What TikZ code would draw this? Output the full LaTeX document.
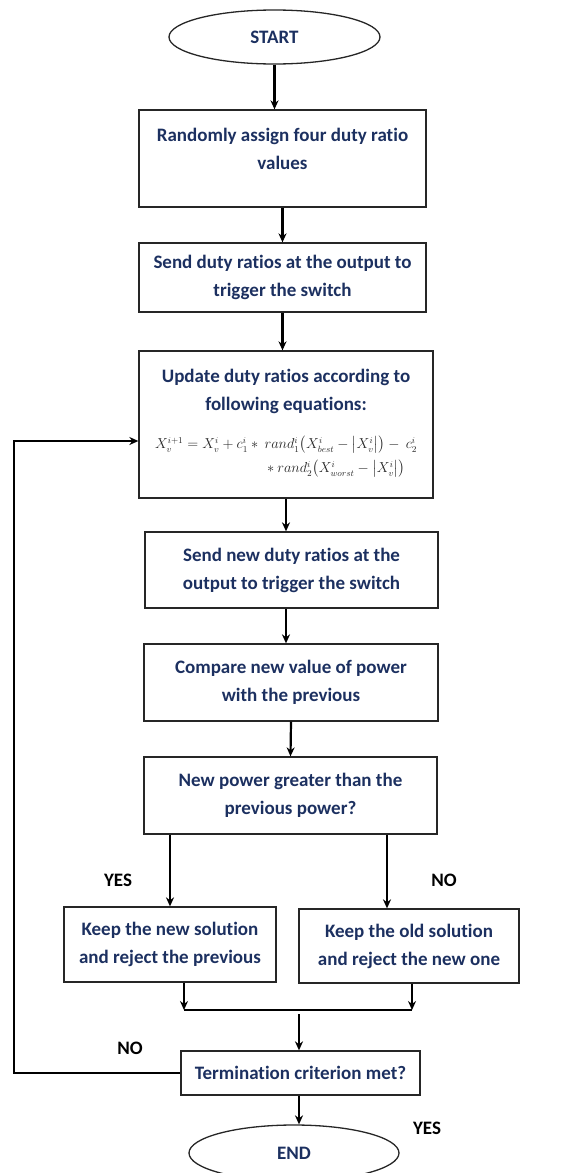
\documentclass[tikz,border=0pt]{standalone}
\usepackage{amsmath}
\usepackage{fontspec}
\setmainfont{Carlito}[Ligatures=NoCommon]
\usetikzlibrary{shapes.geometric,arrows.meta}
\definecolor{navy}{RGB}{28,48,96}

\begin{document}
\begin{tikzpicture}[x=1pt, y=-1pt,
    box/.style={draw=black!85, rectangle, line width=1.3pt, text=navy, align=center,
        font=\bfseries\fontsize{19}{28}\selectfont, inner sep=2pt},
    terminal/.style={draw=black!85, ellipse, line width=1.3pt, text=navy,
        font=\bfseries\fontsize{19}{22}\selectfont},
    flow/.style={-{Stealth[length=9pt,width=8pt]}, line width=2.2pt},
    tag/.style={font=\bfseries\fontsize{19}{22}\selectfont}]
    \useasboundingbox (0,0) rectangle (587,1173);

    % main column
    \node[terminal, minimum width=211pt, minimum height=54pt] (start) at (274.5,37) {START};
    \node[box, minimum width=287pt, minimum height=97pt] (assign) at (282.5,158.5)
        {Randomly assign four duty ratio\\values\\[-18pt]\strut};
    \node[box, minimum width=287pt, minimum height=69pt] (send) at (282.5,277.5)
        {Send duty ratios at the output to\\trigger the switch};
    \node[box, minimum width=294pt, minimum height=147pt] (update) at (286,424.5)
        {Update duty ratios according to\\following equations:\\[10pt]
        {\normalfont\color{black!85}\fontsize{13.5}{24}\selectfont
        \begin{tabular}[t]{@{}l@{}}
        $X_v^{i+1}=X_v^i+c_1^i\ast\ rand_1^i\bigl(X_{best}^i-\bigl|X_v^i\bigr|\bigr)-\ c_2^i$\\
        \hspace*{112pt}$\ast\ rand_2^i\bigl(X_{worst}^i-\bigl|X_v^i\bigr|\bigr)$
        \end{tabular}}};
    \node[box, minimum width=293pt, minimum height=76pt] (sendnew) at (291.5,570)
        {Send new duty ratios at the\\output to trigger the switch};
    \node[box, minimum width=294pt, minimum height=77pt] (compare) at (291,682.5)
        {Compare new value of power\\with the previous};
    \node[box, minimum width=293pt, minimum height=77pt] (greater) at (290.5,795.5)
        {New power greater than the\\previous power?};

    % branches
    \node[box, minimum width=212pt, minimum height=75pt] (keepnew) at (170,944.5)
        {Keep the new solution\\and reject the previous};
    \node[box, minimum width=220pt, minimum height=74pt] (keepold) at (409,946)
        {Keep the old solution\\and reject the new one};
    \node[box, minimum width=239pt, minimum height=44pt] (term) at (300.5,1073)
        {Termination criterion met?};
    \node[terminal, minimum width=210pt, minimum height=56pt] (finish) at (294,1153) {END};

    \node[tag] (yes1) at (118,880) {YES};
    \node[tag] (no1) at (444,880) {NO};
    \node[tag] (no2) at (130,1048) {NO};
    \node[tag] (yes2) at (427,1128) {YES};

    \coordinate (nobranch) at (387,0);
    \coordinate (joinL) at (184,1010);
    \coordinate (joinR) at (412,1010);
    \coordinate (joinM) at (299,1014);
    \coordinate (loop) at (14,0);
    \coordinate (eqline) at (0,441);

    \draw[flow] (start.south) -- (start.south |- assign.north);
    \draw[flow] (send.north |- assign.south) -- (send.north);
    \draw[flow] (send.south) -- (send.south |- update.north);
    \draw[flow] (update.south) -- (update.south |- sendnew.north);
    \draw[flow] (update.south |- sendnew.south) -- (update.south |- compare.north);
    \draw[flow] (compare.south) -- (greater.north);
    \draw[flow] (greater.south -| keepnew.north) -- (keepnew.north);
    \draw[flow] (greater.south -| nobranch) -- (keepold.north -| nobranch);
    \draw[flow] (keepnew.south -| joinL) -- (joinL);
    \draw[flow] (keepold.south -| joinR) -- (joinR);
    \draw[line width=2.2pt] (joinL) -- (joinR);
    \draw[flow] (joinM) -- (term.north -| joinM);
    \draw[flow] (term.south -| joinM) -- (finish.north -| joinM);
    % loop back
    \draw[flow] (term.west) -| (loop |- eqline) -- (update.west |- eqline);
\end{tikzpicture}
\end{document}
